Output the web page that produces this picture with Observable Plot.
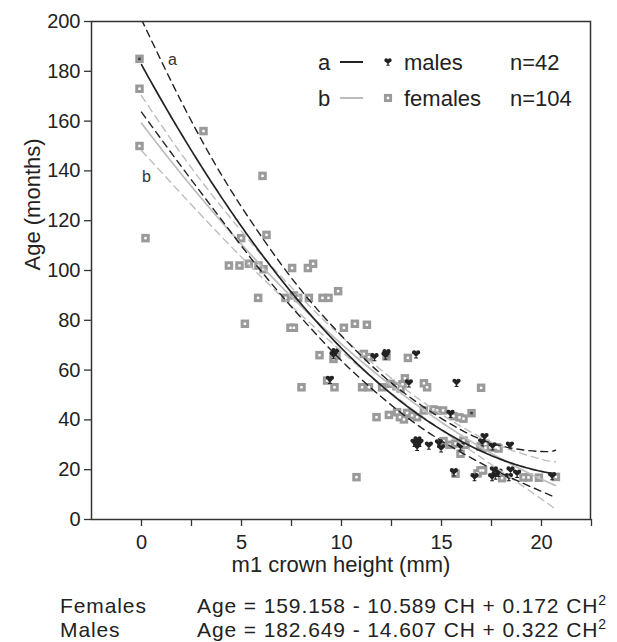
<!DOCTYPE html>
<html><head><meta charset="utf-8">
<script src="https://cdn.jsdelivr.net/npm/d3@7"></script>
<script src="https://cdn.jsdelivr.net/npm/@observablehq/plot@0.6"></script>
<style>
body{margin:0;background:#fff;font-family:"Liberation Sans",Arial,sans-serif;}
#wrap{position:relative;width:617px;height:642px;overflow:hidden}
#wrap svg{position:absolute;left:0;top:0}
.eq{position:absolute;font-size:21px;letter-spacing:0.9px;color:#222;line-height:22px;white-space:nowrap}
.eq sup{font-size:14px;line-height:0;vertical-align:0.6em;letter-spacing:0}
</style></head><body><div id="wrap"></div>
<script>
// ---- data ----
const femaleCH  = [-0.1,-0.1,-0.1,0.2,3.1,6.05,4.98,6.25,4.37,4.9,5.37,5.85,6.1,7.53,8.32,8.58,5.83,7.2,7.62,7.83,8.37,9.05,9.35,9.83,5.17,7.62,10.12,10.67,11.27,8.9,9.75,9.6,11.12,11.37,12.25,13.32,9.28,8.0,9.65,11.03,11.37,12.03,12.45,12.75,12.95,13.17,13.05,14.12,14.28,11.75,12.37,12.78,12.92,13.28,13.53,13.78,13.12,14.12,14.78,15.08,15.6,15.9,16.1,16.5,16.98,14.6,15.1,15.4,15.7,16.2,16.1,15.95,16.95,17.2,17.45,17.78,17.2,17.7,17.85,15.7,16.95,16.8,17.08,18.03,19.1,19.35,19.87,20.72,10.75,7.45];
const femaleAge = [185,173,150,113,156,138,113,114.3,102,102,102.7,102,100.5,101,101,102.7,89,89,90,89,89,89,89,91.7,78.6,77,77,78.6,78.2,66,65.9,64.5,66.5,65.2,65.5,64.9,55.8,53.1,53.1,53.1,53.1,53.1,54.5,53.5,52.6,56.7,54.3,54.7,53.1,41.1,42,43.1,41.1,42.8,41.8,41.1,40.2,43.8,43.8,43.8,41.5,41,40.5,42.7,52.9,44.2,31.5,30,30.5,30,31.7,26.4,29.3,28.8,29,29,30.4,29,28.5,18.4,19.7,18.5,19.7,16.6,16.9,16.9,16.8,17.1,17,77];
const maleCH  = [9.7,9.6,11.65,12.25,12.2,13.73,9.42,13.37,15.75,15.45,13.65,13.9,13.78,13.8,14.37,14.87,14.98,15.95,17.15,17.03,17.55,18.42,15.62,16.65,17.62,17.7,17.53,17.85,18.45,18.37,18.78,20.53];
const maleAge = [67.2,66,65.2,66.8,65.8,66.3,56.1,54.7,54.9,42.4,30.8,30.8,29.2,31.8,29.7,30.6,28.6,29.3,33.1,31,29.4,29.7,19,17,19.7,17.7,17,18.8,19.7,17,18.4,17.4];
// grey square with a dark centre at the top-left
const darkCentreCH = [-0.1, 16.5];
const darkCentreAge = [185, 42.7];
// regression coefficients printed under the chart: Age = c0 + c1*CH + c2*CH^2
const femaleCoef = [159.158, -10.589, 0.172];
const maleCoef   = [182.649, -14.607, 0.322];
const fitRange = [0, 20.7];
// confidence-band curves
const bandCH      = [0, 2, 4, 6, 8, 10, 12, 14, 16, 18, 20, 20.7];
const maleUpper   = [200.8,167.7,138.4,113.6,91.9,73.8,58.2,45.8,35.9,29.5,27.3,27.8];
const maleLower   = [163.6,141.7,120.4,99.6,80.9,63.8,49.2,36.8,26.9,18.5,11.3,8.8];
const femaleUpper = [170.2,146.7,125.6,106.3,89.0,73.5,59.9,47.6,37.3,29.3,24.2,23.2];
const femaleLower = [148.2,130.7,113.6,97.3,82.0,67.5,53.9,41.6,30.3,19.3,8.2,4.2];
const curveLabels = [{t:"a", ch:1.55, age:184.5}, {t:"b", ch:0.25, age:137.5}];
const xTicks = [0, 2.5, 5, 7.5, 10, 12.5, 15, 17.5, 20, 22.5];
const yTicks = [0, 20, 40, 60, 80, 100, 120, 140, 160, 180, 200];
const legendRows = [
  {key:"a", sex:"males", n:"n=42"},
  {key:"b", sex:"females", n:"n=104"}
];
const equations = [
  {sex:"Females", coef: femaleCoef},
  {sex:"Males", coef: maleCoef}
];

// ---- build ----
const females = femaleCH.map((ch,i)=>({ch, age: femaleAge[i]}));
const males = maleCH.map((ch,i)=>({ch, age: maleAge[i]}));
const darkCentres = darkCentreCH.map((ch,i)=>({ch, age: darkCentreAge[i]}));
const fit = (c) => d3.range(fitRange[0], fitRange[1] + 1e-9, 0.1).map(ch => ({ch, age: c[0] + c[1]*ch + c[2]*ch*ch}));
const band = (arr) => bandCH.map((ch,i)=>({ch, age: arr[i]}));

const maleSymbol = {
  draw(ctx, size) {
    const k = Math.sqrt(size) / (Math.sqrt(Math.PI) * 4.5);
    const r = 2.15*k;
    ctx.moveTo(-2*k + r, -2*k); ctx.arc(-2*k, -2*k, r, 0, 2*Math.PI);
    ctx.moveTo(2*k + r, -2*k); ctx.arc(2*k, -2*k, r, 0, 2*Math.PI);
    ctx.moveTo(-4.1*k, -1.4*k); ctx.lineTo(4.1*k, -1.4*k); ctx.lineTo(0, 2.6*k); ctx.closePath();
    ctx.moveTo(-0.7*k, 1.4*k); ctx.lineTo(0.7*k, 1.4*k); ctx.lineTo(0.7*k, 3.3*k); ctx.lineTo(-0.7*k, 3.3*k); ctx.closePath();
    ctx.moveTo(-1.9*k, 3.2*k); ctx.lineTo(1.9*k, 3.2*k); ctx.lineTo(1.9*k, 4.2*k); ctx.lineTo(-1.9*k, 4.2*k); ctx.closePath();
  }
};

const dark = "#222", light = "#bdbdbd", sq = "#9a9a9a";
const dash = "7,5";

const chart = Plot.plot({
  width: 617, height: 585,
  marginLeft: 91, marginRight: 27, marginTop: 21, marginBottom: 66,
  style: {fontFamily: "'Liberation Sans', Arial, sans-serif", color: "#222", background: "transparent"},
  x: {domain: [-2.5, 22.45]},
  y: {domain: [0, 200]},
  marks: [
    Plot.dot(females, {x:"ch", y:"age", symbol:"square", r:4.8, fill:sq}),
    Plot.dot(females, {x:"ch", y:"age", symbol:"square", r:1.4, fill:"#fff"}),
    Plot.dot(darkCentres, {x:"ch", y:"age", symbol:"square", r:1.5, fill:"#333"}),
    Plot.dot(males, {x:"ch", y:"age", symbol: maleSymbol, r:4.5, fill:dark}),
    Plot.line(band(femaleUpper), {x:"ch", y:"age", curve:"natural", stroke:light, strokeWidth:1.4, strokeDasharray:dash, clip:true}),
    Plot.line(band(femaleLower), {x:"ch", y:"age", curve:"natural", stroke:light, strokeWidth:1.4, strokeDasharray:dash, clip:true}),
    Plot.line(fit(femaleCoef), {x:"ch", y:"age", stroke:light, strokeWidth:1.7, clip:true}),
    Plot.line(band(maleUpper), {x:"ch", y:"age", curve:"natural", stroke:dark, strokeWidth:1.4, strokeDasharray:dash, clip:true}),
    Plot.line(band(maleLower), {x:"ch", y:"age", curve:"natural", stroke:dark, strokeWidth:1.4, strokeDasharray:dash, clip:true}),
    Plot.line(fit(maleCoef), {x:"ch", y:"age", stroke:dark, strokeWidth:1.7, clip:true}),
    Plot.text(curveLabels, {x:"ch", y:"age", text:"t", fontSize:16, fill:"#333"}),
    Plot.frame({stroke:"#333", strokeWidth:1.5}),
    Plot.axisY({ticks: yTicks, tickSize:7, tickPadding:4, fontSize:20, label:null, stroke:"#333", strokeWidth:1.3}),
    Plot.axisX({ticks: xTicks, tickSize:7, tickPadding:8, fontSize:20, label:null, stroke:"#333", strokeWidth:1.3,
      tickFormat: d => (d % 5 === 0 && d <= 20) ? String(d) : ""}),
    Plot.text(["m1 crown height (mm)"], {frameAnchor:"bottom", dy:52, fontSize:22, fill:"#222"}),
    Plot.text(["Age (months)"], {frameAnchor:"left", dx:-59, rotate:-90, fontSize:22, fill:"#222"})
  ]
});

// legend (drawn into the same SVG)
const svg = d3.select(chart);
const lg = svg.append("g").attr("font-family", "'Liberation Sans', Arial, sans-serif").attr("font-size", 22).attr("fill", "#222").attr("text-anchor", "start");
legendRows.forEach((row, i) => {
  const y = 62 + i*36;
  const g = lg.append("g").attr("transform", `translate(0,${y})`);
  g.append("text").attr("x", 318).attr("dy", "0.35em").attr("text-anchor", "start").text(row.key);
  g.append("line").attr("x1", 340).attr("x2", 363).attr("stroke", i === 0 ? dark : light).attr("stroke-width", 2);
  if (i === 0) {
    g.append("path").attr("transform", "translate(388,0)").attr("d", d3.symbol(maleSymbol, Math.PI*4*4)()).attr("fill", dark);
  } else {
    g.append("path").attr("transform", "translate(388,0)").attr("d", d3.symbol(d3.symbolSquare, Math.PI*4.6*4.6)()).attr("fill", sq);
    g.append("path").attr("transform", "translate(388,0)").attr("d", d3.symbol(d3.symbolSquare, Math.PI*1.4*1.4)()).attr("fill", "#fff");
  }
  g.append("text").attr("x", 404).attr("dy", "0.35em").attr("text-anchor", "start").text(row.sex);
  g.append("text").attr("x", 510).attr("dy", "0.35em").attr("text-anchor", "start").text(row.n);
});

const wrap = document.getElementById("wrap");
wrap.appendChild(chart);
equations.forEach((e, i) => {
  const top = 595 + i*24;
  const a = document.createElement("div");
  a.className = "eq"; a.style.left = "60px"; a.style.top = top + "px"; a.textContent = e.sex;
  const b = document.createElement("div");
  b.className = "eq"; b.style.left = "197px"; b.style.top = top + "px";
  b.innerHTML = `Age = ${e.coef[0].toFixed(3)} - ${Math.abs(e.coef[1]).toFixed(3)} CH + ${e.coef[2].toFixed(3)} CH<sup>2</sup>`;
  wrap.appendChild(a); wrap.appendChild(b);
});
</script></body></html>
